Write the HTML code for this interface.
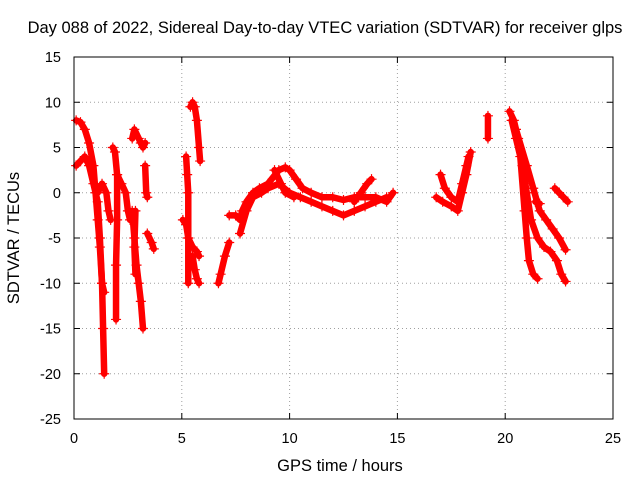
<!DOCTYPE html>
<html><head><meta charset="utf-8"><style>
body{margin:0;background:#fff}
svg text{font-family:"Liberation Sans",sans-serif;fill:#000}
</style></head><body>
<svg id="chart" width="640" height="480" xmlns="http://www.w3.org/2000/svg">
<rect width="640" height="480" fill="#fff"/>
<text x="325" y="33" font-size="16.5" text-anchor="middle">Day 088 of 2022, Sidereal Day-to-day VTEC variation (SDTVAR) for receiver glps</text>
<text x="340" y="471" font-size="16.5" text-anchor="middle">GPS time / hours</text>
<text transform="translate(19,238) rotate(-90)" font-size="16.5" text-anchor="middle">SDTVAR / TECUs</text>
<g id="grid"></g><g id="ticks"></g><g id="series"></g>
<rect x="74" y="57" width="539" height="362" fill="none" stroke="#000"/>
</svg>
<script>
const xTicks=[0,5,10,15,20,25];
const yTicks=[15,10,5,0,-5,-10,-15,-20,-25];
const traces=[
[[0.1,8],[0.3,7.8],[0.5,7],[0.7,5.5],[0.9,3],[1.0,0],[1.1,-3],[1.2,-6],[1.3,-10],[1.4,-11]],
[[0.1,3],[0.3,3.5],[0.5,4],[0.7,3],[0.9,1],[1.1,-1],[1.2,-5],[1.3,-10],[1.35,-15],[1.4,-20]],
[[1.1,0],[1.3,1],[1.5,0],[1.6,-2],[1.7,-3]],
[[1.8,5],[1.9,4.5],[2.0,2],[2.0,-3],[1.95,-8],[1.95,-14]],
[[2.0,2],[2.2,1],[2.4,0],[2.5,-2],[2.6,-3]],
[[2.7,6],[2.8,7],[3.0,6],[3.1,5.5],[3.2,5],[3.3,5.5]],
[[2.7,-2],[2.8,-5],[2.9,-8],[3.0,-10],[3.1,-12],[3.2,-15]],
[[2.85,-2],[2.8,-6],[2.85,-9]],
[[3.3,3],[3.35,0],[3.4,-0.5]],
[[3.4,-4.5],[3.6,-5.5],[3.7,-6.2]],
[[5.05,-3],[5.2,-3.5],[5.3,-5],[5.5,-6],[5.7,-6.5],[5.8,-7]],
[[5.2,4],[5.25,2],[5.3,0],[5.3,-5],[5.3,-10]],
[[5.4,9.5],[5.5,10],[5.6,9.5],[5.7,8],[5.8,5],[5.85,3.5]],
[[5.5,-7],[5.6,-8.5],[5.7,-9.5],[5.8,-10]],
[[6.7,-10],[6.8,-9],[7.0,-7],[7.2,-5.5]],
[[7.2,-2.5],[7.5,-2.5],[7.7,-3],[7.8,-2],[8.0,-1],[8.3,0],[8.6,0.5],[9.0,1],[9.5,2.5],[9.8,2.8],[10.0,2.5],[10.3,1.5],[10.6,0.5],[11.0,0],[11.5,-0.5],[12,-0.5],[12.5,-0.8],[13,-0.5],[13.5,-0.5],[14,-0.5],[14.5,-1],[14.8,0]],
[[7.7,-4.5],[8.0,-2],[8.3,-0.5],[8.7,0],[9.0,0.5],[9.5,1],[10.0,0],[10.5,-0.5],[11,-1],[11.5,-1.5],[12,-2],[12.5,-2.5],[13,-2],[13.5,-1.5],[14,-1],[14.5,-0.5]],
[[9.3,2.5],[9.6,1],[9.8,0],[10.2,-0.5]],
[[13,-1],[13.3,0],[13.6,1],[13.8,1.5]],
[[16.8,-0.5],[17.1,-1],[17.5,-1.5],[17.8,-2],[18.0,0],[18.2,2],[18.4,4.5]],
[[17.0,2],[17.2,0.5],[17.5,-0.5],[17.8,-1],[18.0,1],[18.2,3],[18.3,4]],
[[19.2,8.5],[19.2,6]],
[[20.2,9],[20.4,8],[20.6,6],[20.8,3],[21.0,0],[21.2,-3],[21.5,-5],[21.8,-6],[22.1,-6.5],[22.4,-7.5],[22.6,-9],[22.8,-9.8]],
[[20.3,8],[20.5,6],[20.7,4],[20.9,-2],[21.0,-5],[21.1,-7.5],[21.3,-9],[21.5,-9.5]],
[[20.5,7],[21,3],[21.3,0.5],[21.6,-2],[21.9,-3],[22.2,-4],[22.5,-5],[22.8,-6.3]],
[[21.4,-1],[21.6,-1.2]],
[[22.3,0.5],[22.5,0],[22.7,-0.5],[22.9,-1]]
];
const NS="http://www.w3.org/2000/svg";
function sx(v){return 74+(v-0)/25*539;}
function sy(v){return 419-(v+25)/40*362;}
function mk(t,a,p){const e=document.createElementNS(NS,t);for(const k in a)e.setAttribute(k,a[k]);p.appendChild(e);return e;}
const grid=document.getElementById('grid'),ticks=document.getElementById('ticks'),ser=document.getElementById('series');
xTicks.forEach(v=>{const x=sx(v);
 if(v>0&&v<25){const g=mk('line',{x1:x,x2:x,y1:57,y2:419,stroke:'#a0a0a0','stroke-dasharray':'1,3'},grid);
 
 }
 mk('line',{x1:x,x2:x,y1:419,y2:413,stroke:'#000'},ticks);mk('line',{x1:x,x2:x,y1:57,y2:63,stroke:'#000'},ticks);
 const t=mk('text',{x:x,y:443,'font-size':14.5,'text-anchor':'middle'},ticks);t.textContent=v;
 
 });
yTicks.forEach(v=>{const y=sy(v);
 if(v>-25&&v<15){const g=mk('line',{x1:74,x2:613,y1:y,y2:y,stroke:'#a0a0a0','stroke-dasharray':'1,3'},grid);
 
 }
 mk('line',{x1:74,x2:80,y1:y,y2:y,stroke:'#000'},ticks);mk('line',{x1:613,x2:607,y1:y,y2:y,stroke:'#000'},ticks);
 const t=mk('text',{x:61,y:y+5,'font-size':14.5,'text-anchor':'end'},ticks);t.textContent=v;
 
 });
traces.forEach(tr=>{
 const pl=mk('polyline',{points:tr.map(p=>sx(p[0])+','+sy(p[1])).join(' '),fill:'none',stroke:'#ff0000','stroke-width':6.5,'stroke-linejoin':'round','stroke-linecap':'round'},ser);
 
 
 tr.forEach(p=>{const x=sx(p[0]),y=sy(p[1]);
  const m=mk('path',{d:`M${x-5},${y}H${x+5}M${x},${y-5}V${y+5}`,stroke:'#ff0000','stroke-width':1.2},ser);
  
  });
});
</script>
</body></html>
